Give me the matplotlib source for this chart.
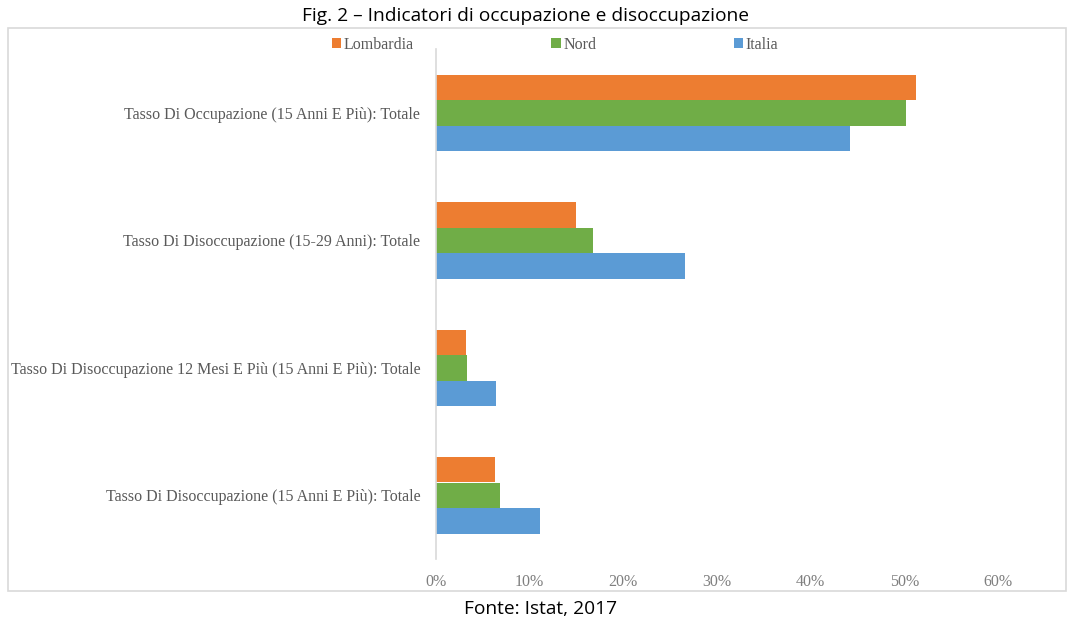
import matplotlib
matplotlib.use("Agg")
import matplotlib.pyplot as plt
from matplotlib.patches import Rectangle, Patch
from matplotlib.ticker import FuncFormatter
import numpy as np

categories = [
    "Tasso Di Occupazione (15 Anni E Più): Totale",
    "Tasso Di Disoccupazione (15-29 Anni): Totale",
    "Tasso Di Disoccupazione 12 Mesi E Più (15 Anni E Più): Totale",
    "Tasso Di Disoccupazione (15 Anni E Più): Totale",
]
series_names = ["Lombardia", "Nord", "Italia"]
lombardia = [51.3, 15.0, 3.2, 6.3]
nord = [50.2, 16.8, 3.4, 6.9]
italia = [44.2, 26.6, 6.4, 11.1]
colors = ["#ED7D31", "#70AD47", "#5B9BD5"]
x_ticks = [0, 10, 20, 30, 40, 50, 60]

W, H = 1068, 622
fig = plt.figure(figsize=(W / 100, H / 100), dpi=100)

# outer border
fig.patches.append(Rectangle((8 / W, 1 - 591 / H), (1066 - 8) / W, (591 - 28) / H,
                             transform=fig.transFigure, fill=False,
                             edgecolor="#D9D9D9", linewidth=1.2))

ax = fig.add_axes([435.5 / W, 1 - 559 / H, (998 - 435.5) / W, (559 - 49) / H])

y = np.arange(len(categories))
bh = 0.2
for i, (vals, name, c) in enumerate(zip([lombardia, nord, italia], series_names, colors)):
    ax.barh(y + (i - 1) * bh, vals, height=bh, color=c, label=name)

ax.set_ylim(len(categories) - 0.5, -0.5)
ax.set_xlim(0, 60)
ax.set_xticks(x_ticks)
ax.xaxis.set_major_formatter(FuncFormatter(lambda v, p: f"{v:.0f}%"))
ax.set_yticks(y)
ax.set_yticklabels(categories)
serif = ["Liberation Serif", "DejaVu Serif"]
fs = 11.5
for lab in ax.get_yticklabels():
    lab.set_fontfamily(serif)
    lab.set_fontsize(fs)
    lab.set_color("#595959")
for lab in ax.get_xticklabels():
    lab.set_fontfamily(serif)
    lab.set_fontsize(fs)
    lab.set_color("#7F7F7F")
ax.tick_params(axis="both", length=0)
ax.tick_params(axis="y", pad=11)
ax.tick_params(axis="x", pad=11)
for s in ["top", "right", "bottom"]:
    ax.spines[s].set_visible(False)
ax.spines["left"].set_color("#D9D9D9")
ax.spines["left"].set_linewidth(1.2)

handles = [Patch(facecolor=c, edgecolor="none") for c in colors]
fig.legend(handles, series_names, loc="center", bbox_to_anchor=(555 / W, 1 - 45 / H),
           ncol=3, frameon=False, handlelength=0.6, handleheight=0.6,
           handletextpad=0.15, columnspacing=8.6,
           prop={"family": serif, "size": fs}, labelcolor="#595959")

sans = ["Liberation Sans Narrow", "Open Sans", "DejaVu Sans"]
fig.text(525 / W, 1 - 16 / H, "Fig. 2 – Indicatori di occupazione e disoccupazione",
         ha="center", va="center", fontsize=13.8, family=sans, color="#000000")
fig.text(541 / W, 1 - 609 / H, "Fonte: Istat, 2017",
         ha="center", va="center", fontsize=13.8, family=sans, color="#000000")

fig.savefig("out.png", dpi=100)
